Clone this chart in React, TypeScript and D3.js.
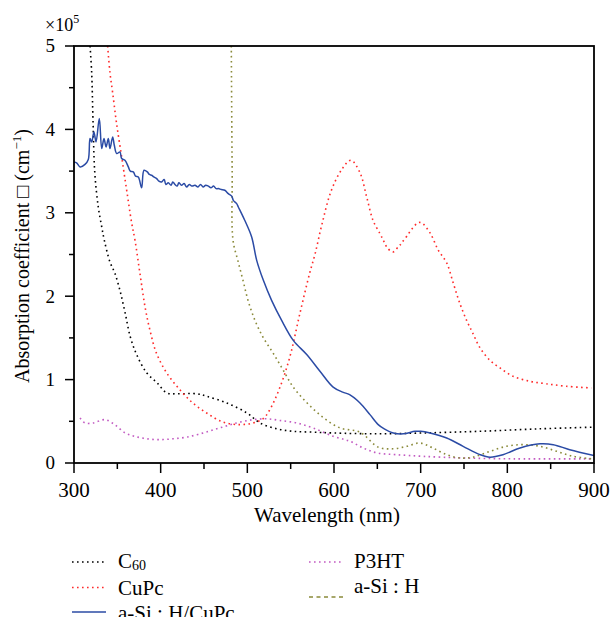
import React from 'react';
import * as d3 from 'd3';

// [wavelength nm, absorption coefficient x1e5 cm^-1]
const c60: [number, number][] = [
  [318.5, 5.0], [320.4, 4.68], [322, 4.08], [324, 3.48], [328, 3.07], [332, 2.83], [335, 2.67],
  [341.5, 2.41], [347, 2.28], [353, 2.07], [359, 1.8], [365, 1.51], [372.7, 1.29], [384, 1.08],
  [396, 0.96], [407, 0.84], [419, 0.83], [442, 0.83], [453, 0.8], [476, 0.72], [499.6, 0.6],
  [514.6, 0.48], [534, 0.41], [553, 0.38], [576, 0.37], [599, 0.36], [650, 0.35], [702.7, 0.36],
  [768, 0.38], [837.7, 0.41], [900, 0.43],
];

const cupc: [number, number][] = [
  [338.8, 5.0], [341.5, 4.68], [344.6, 4.44], [349, 4.08], [355, 3.67], [360.8, 3.27], [366.5, 2.88],
  [370.4, 2.67], [376, 2.28], [382, 1.87], [387.7, 1.59], [395, 1.32], [407, 1.08], [422, 0.88],
  [437, 0.72], [453, 0.6], [472, 0.49], [491.5, 0.46], [506.5, 0.48], [518, 0.53], [526, 0.64],
  [537.7, 0.91], [549, 1.27], [560.8, 1.8], [572, 2.28], [578, 2.5], [585.8, 2.85], [597, 3.27],
  [609, 3.52], [619.6, 3.63], [630, 3.48], [637.7, 3.19], [645, 2.91], [653, 2.75], [656, 2.69],
  [658.8, 2.63], [661.5, 2.58], [668, 2.53], [674, 2.59], [676, 2.61], [678.8, 2.65], [684, 2.72],
  [691, 2.82], [697, 2.88], [701, 2.88], [710.8, 2.76], [720.4, 2.55], [730, 2.4], [737.5, 2.16],
  [745, 1.92], [753, 1.71], [760, 1.56], [768, 1.39], [780, 1.23], [791.5, 1.14], [806.6, 1.04],
  [826, 0.98], [845, 0.95], [868, 0.92], [897, 0.9],
];

const p3ht: [number, number][] = [
  [307, 0.54], [312.7, 0.48], [322, 0.48], [335.8, 0.52], [347, 0.46], [359, 0.36], [370, 0.32],
  [384, 0.29], [399, 0.28], [414, 0.29], [430, 0.31], [449, 0.36], [468, 0.42], [487.7, 0.48],
  [506.6, 0.52], [522, 0.53], [537.7, 0.51], [557, 0.48], [576, 0.42], [599, 0.32], [618.5, 0.26],
  [633.6, 0.18], [650, 0.12], [672, 0.1], [703, 0.08], [749, 0.06], [807, 0.05], [897, 0.05],
];

const asih: [number, number][] = [
  [481.5, 5.0], [482.5, 3.5], [483.5, 2.67], [489, 2.43], [495, 2.19], [500.8, 1.95], [508.8, 1.71],
  [518, 1.51], [529.6, 1.32], [541, 1.12], [553, 0.91], [569, 0.72], [587, 0.55], [607, 0.42],
  [630, 0.37], [651, 0.19], [668, 0.17], [684, 0.2], [699, 0.24], [714, 0.18], [730, 0.1],
  [745, 0.06], [760, 0.07], [780, 0.14], [799, 0.2], [818, 0.22], [837.7, 0.2], [857, 0.14],
  [876, 0.08], [897, 0.05],
];

const asihCupc: [number, number][] = [
  [300, 3.61], [303, 3.6], [307, 3.55], [312.7, 3.58], [316.5, 3.64], [318.5, 3.89], [320.4, 3.85],
  [323, 3.97], [325.4, 3.85], [329.2, 4.13], [332, 3.77], [334.6, 3.89], [337, 3.79], [339.6, 3.89],
  [341.5, 3.77], [344.6, 3.91], [346.5, 3.81], [349.3, 3.71], [353, 3.73], [355, 3.65], [358.8, 3.63],
  [362.7, 3.55], [365, 3.5], [368.4, 3.49], [371, 3.44], [374.2, 3.43], [378, 3.3], [380.8, 3.51],
  [384.6, 3.49], [387, 3.46], [389.7, 3.45], [392, 3.43], [395.4, 3.41], [398, 3.38], [401, 3.37],
  [404, 3.40], [406, 3.34], [408.8, 3.36], [412, 3.33], [414, 3.37], [416.5, 3.34], [419, 3.32],
  [421, 3.36], [424, 3.33], [427, 3.35], [430, 3.31], [433, 3.34], [436, 3.32], [439.6, 3.33],
  [443, 3.31], [446, 3.34], [449, 3.31], [452, 3.33], [455, 3.32], [458, 3.30], [461, 3.32],
  [464, 3.29], [466.5, 3.29], [470, 3.28], [474, 3.27], [478, 3.23], [482, 3.2], [483.8, 3.15],
  [487.7, 3.11], [489.6, 3.07], [497, 2.91], [505, 2.71], [510.8, 2.43], [518.5, 2.19], [528, 1.95],
  [539.6, 1.71], [553, 1.47], [568.5, 1.3], [583.8, 1.1], [599, 0.91], [610, 0.85], [618, 0.82],
  [630, 0.72], [641.5, 0.58], [651, 0.46], [658, 0.41], [668.5, 0.36], [680, 0.35], [693.5, 0.38],
  [700, 0.38], [710.8, 0.36], [730, 0.3], [749, 0.2], [768.5, 0.1], [780, 0.07], [795, 0.1],
  [814.6, 0.18], [837.7, 0.23], [853, 0.22], [872, 0.16], [900, 0.09],
];

const xTicks = [300, 400, 500, 600, 700, 800, 900];
const yTicks = [0, 1, 2, 3, 4, 5];

const W = 611;
const H = 617;
const margin = { left: 74, right: 17, top: 46, bottom: 154 };

const colors = {
  c60: '#000000',
  cupc: '#ff2a2a',
  p3ht: '#c25ac2',
  asih: '#8a8a3a',
  asihCupc: '#2b4ba5',
};

const font = 'Liberation Serif';

export default function App() {
  const x = d3.scaleLinear().domain([300, 900]).range([margin.left, W - margin.right]);
  const y = d3.scaleLinear().domain([0, 5]).range([H - margin.bottom, margin.top]);

  const smooth = d3.line<[number, number]>()
    .x(d => x(d[0]))
    .y(d => y(d[1]))
    .curve(d3.curveCatmullRom.alpha(0.5));

  const x0 = margin.left;
  const x1 = W - margin.right;
  const y0 = H - margin.bottom;
  const y1 = margin.top;

  const xMinor = d3.range(350, 900, 100);
  const yMinor = d3.range(0.5, 5, 1);

  const dotted = { strokeWidth: 1.6, strokeDasharray: '1.6 3.4', fill: 'none' };

  return (
    <svg width={W} height={H} style={{ position: 'absolute', left: 0, top: 0, background: '#fff' }}
      fontFamily={font}>
      <defs>
        <clipPath id="plot">
          <rect x={x0} y={y1} width={x1 - x0} height={y0 - y1} />
        </clipPath>
      </defs>

      <g clipPath="url(#plot)">
        <path d={smooth(p3ht) || ''} stroke={colors.p3ht} {...dotted} />
        <path d={smooth(asih) || ''} stroke={colors.asih} {...dotted} />
        <path d={smooth(c60) || ''} stroke={colors.c60} {...dotted} />
        <path d={smooth(cupc) || ''} stroke={colors.cupc} {...dotted} />
        <path d={smooth(asihCupc) || ''} stroke={colors.asihCupc} strokeWidth={1.5} fill="none" />
      </g>

      {/* frame */}
      <rect x={x0} y={y1} width={x1 - x0} height={y0 - y1} fill="none" stroke="#000" strokeWidth={1.8} />

      {/* y axis ticks */}
      {yTicks.map(t => (
        <g key={'y' + t}>
          <line x1={x0 - 9} x2={x0} y1={y(t)} y2={y(t)} stroke="#000" strokeWidth={1.5} />
          <text x={x0 - 19} y={y(t)} dy="0.34em" textAnchor="end" fontSize={19} fontFamily={font}>{t}</text>
        </g>
      ))}
      {yMinor.map(t => (
        <line key={'ym' + t} x1={x0 - 5} x2={x0} y1={y(t)} y2={y(t)} stroke="#000" strokeWidth={1.5} />
      ))}

      {/* x axis ticks */}
      {xTicks.map(t => (
        <g key={'x' + t}>
          <line x1={x(t)} x2={x(t)} y1={y0} y2={y0 + 10} stroke="#000" strokeWidth={1.5} />
          <text x={x(t)} y={497} textAnchor="middle" fontSize={21} fontFamily={font}>{t}</text>
        </g>
      ))}
      {xMinor.map(t => (
        <line key={'xm' + t} x1={x(t)} x2={x(t)} y1={y0} y2={y0 + 6} stroke="#000" strokeWidth={1.5} />
      ))}

      <text x={327} y={522} textAnchor="middle" fontSize={21} fontFamily={font}>Wavelength (nm)</text>
      <text transform="translate(29, 256) rotate(-90)" textAnchor="middle" fontSize={20} fontFamily={font}>
        Absorption coefficient □ (cm<tspan dy="-8" fontSize={13}>−1</tspan><tspan dy="8">)</tspan>
      </text>
      <text x={45} y={31} fontSize={18} fontFamily={font}>×10<tspan dy="-8" fontSize={12}>5</tspan></text>

      {/* legend */}
      <g fontSize={21} fontFamily={font}>
        <line x1={72} x2={106} y1={562} y2={562} stroke={colors.c60} {...dotted} />
        <text x={118} y={568}>C<tspan fontSize={14} dy={2}>60</tspan></text>
        <line x1={72} x2={106} y1={587.5} y2={587.5} stroke={colors.cupc} {...dotted} />
        <text x={118} y={595}>CuPc</text>
        <line x1={72} x2={106} y1={612} y2={612} stroke={colors.asihCupc} strokeWidth={1.5} />
        <text x={118} y={620}>a-Si : H/CuPc</text>

        <line x1={309} x2={343} y1={562} y2={562} stroke={colors.p3ht} {...dotted} />
        <text x={354} y={568}>P3HT</text>
        <line x1={309} x2={343} y1={597} y2={597} stroke={colors.asih} strokeWidth={1.3} strokeDasharray="4 3.5" />
        <text x={354} y={593}>a-Si : H</text>
      </g>
    </svg>
  );
}
